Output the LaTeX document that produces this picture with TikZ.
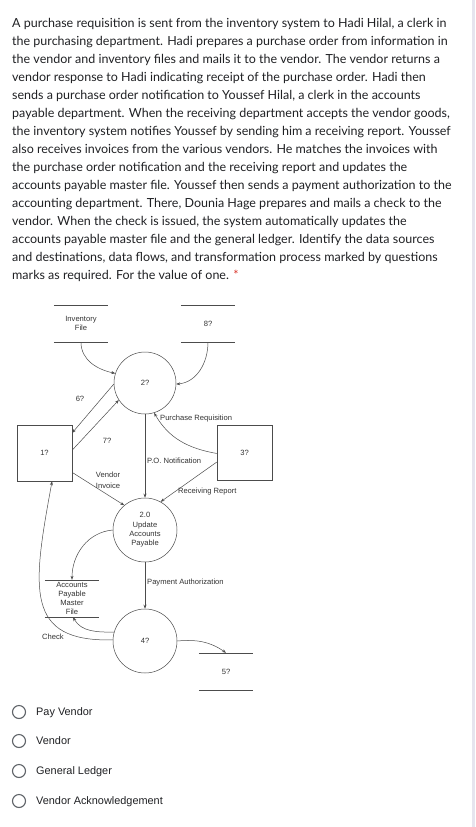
\documentclass[tikz,border=0pt]{standalone}
\usepackage{fontspec}
\setmainfont{Lato}
\newfontfamily\dfdfont{Liberation Sans}
\newfontfamily\optfont{Liberation Sans}
\usetikzlibrary{arrows.meta}
\definecolor{qtext}{HTML}{202124}
\definecolor{ringgray}{HTML}{5F6368}
\definecolor{reqred}{HTML}{D93025}
\definecolor{edgeband}{HTML}{E6E4EE}

\begin{document}
\begin{tikzpicture}[x=1pt, y=-1pt,
    line/.style={draw=black!70, line width=0.5pt},
    flow/.style={line, -{Stealth[length=4pt, width=3pt]}},
    proc/.style={circle, draw=black!70, line width=0.5pt, inner sep=0pt,
        font=\dfdfont\fontsize{7.6}{9.3}\selectfont, text=black!80, align=center},
    ent/.style={rectangle, draw=black!70, line width=0.5pt, minimum width=55pt,
        minimum height=56pt, inner sep=0pt, font=\dfdfont\fontsize{7.6}{9}\selectfont, text=black!80},
    store/.style={minimum width=54pt, minimum height=37pt, inner sep=0pt,
        font=\dfdfont\fontsize{7.6}{9}\selectfont, text=black!80, align=center},
    lbl/.style={font=\dfdfont\fontsize{7.6}{9}\selectfont, text=black!80, inner sep=0pt},
    radio/.style={circle, draw=ringgray, line width=1.1pt, minimum size=13pt, inner sep=0pt},
    opt/.style={font=\optfont\fontsize{10.9}{12}\selectfont, text=qtext, anchor=base west, inner sep=0pt}]

    \useasboundingbox (0,0) rectangle (475,827);
    \fill[white] (0,0) rectangle (475,827);
    \fill[edgeband] (472,0) rectangle (475,827);

    % question
    \node[anchor=north west, inner sep=0pt, align=left, text=qtext,
        font=\fontsize{12.5}{18}\selectfont] (q) at (12,17.8) {%
        A purchase requisition is sent from the inventory system to Hadi Hilal, a clerk in\\
        the purchasing department. Hadi prepares a purchase order from information in\\
        the vendor and inventory files and mails it to the vendor. The vendor returns a\\
        vendor response to Hadi indicating receipt of the purchase order. Hadi then\\
        sends a purchase order notification to Youssef Hilal, a clerk in the accounts\\
        payable department. When the receiving department accepts the vendor goods,\\
        the inventory system notifies Youssef by sending him a receiving report. Youssef\\
        also receives invoices from the various vendors. He matches the invoices with\\
        the purchase order notification and the receiving report and updates the\\
        accounts payable master file. Youssef then sends a payment authorization to the\\
        accounting department. There, Dounia Hage prepares and mails a check to the\\
        vendor. When the check is issued, the system automatically updates the\\
        accounts payable master file and the general ledger. Identify the data sources\\
        and destinations, data flows, and transformation process marked by questions\\
        marks as required. For the value of one. {\color{reqred}*}};

    % stores, processes, entities
    \node[store] (invfile) at (81,323.5) {Inventory\\File};
    \node[store] (store8) at (208,323.5) {8?};
    \node[store] (apfile) at (72,598.5) {Accounts\\Payable\\Master\\File};
    \node[store] (store5) at (226,671.5) {5?};
    \foreach \s in {invfile,store8,apfile,store5}
        \draw[line] (\s.north west) -- (\s.north east) (\s.south west) -- (\s.south east);

    \node[proc, minimum size=62pt] (proc2) at (145,383) {2?};
    \node[proc, minimum size=64pt] (update) at (145,530) {2.0\\Update\\Accounts\\Payable};
    \node[proc, minimum size=64pt] (proc4) at (145,641) {4?};
    \node[ent] (ent1) at (44.5,453) {1?};
    \node[ent, minimum height=55pt] (ent3) at (244.5,452.5) {3?};

    % flows
    \draw[flow] (invfile.south) to[out=-90, in=168] (proc2.162);
    \draw[flow] (store8.south) to[out=-90, in=5] (proc2.-2);
    \draw[flow] (proc2.182) -- (ent1.36);
    \draw[flow] (ent1.6) -- (proc2.213);
    \draw[flow] (proc2.south) -- (update.north);
    \draw[flow] (ent3.182) to[out=170, in=-60] (proc2.-73);
    \draw[flow] (ent3.199) -- (update.61);
    \draw[flow] (ent1.-35) -- (update.130);
    \draw[flow] (update.180) to[out=185, in=90] (apfile.north);
    \draw[flow] (update.south) -- (proc4.north);
    \draw[flow] (proc4.164) to[out=180, in=-60] ([xshift=1pt]apfile.south);
    \draw[flow] (proc4.178) .. controls (25,642) and (32,590) .. (ent1.-75);
    \draw[flow] (proc4.0) to[out=5, in=145] (store5.north);

    % flow labels
    \node[lbl] (l6) at (80,399) {6?};
    \node[lbl] (l7) at (107,441) {7?};
    \node[lbl, anchor=west] (lpo) at (147,461) {P.O. Notification};
    \node[lbl, anchor=west] (lpr) at (160,419) {Purchase Requisition};
    \node[lbl, anchor=west] (lrr) at (178,492) {Receiving Report};
    \node[lbl, align=center] (lvi) at (108,480.5) {Vendor\\[1.5pt]Invoice};
    \node[lbl, anchor=west] (lpa) at (147,583) {Payment Authorization};
    \node[lbl] (lcheck) at (53,637) {Check};

    % answer options
    \foreach \y/\t [count=\i] in {712/Pay Vendor, 741/Vendor, 771/General Ledger, 801/Vendor Acknowledgement} {
        \node[radio] (r\i) at (19,\y) {};
        \node[opt] (o\i) at (36,\y+3.8) {\t};
    }
\end{tikzpicture}
\end{document}
